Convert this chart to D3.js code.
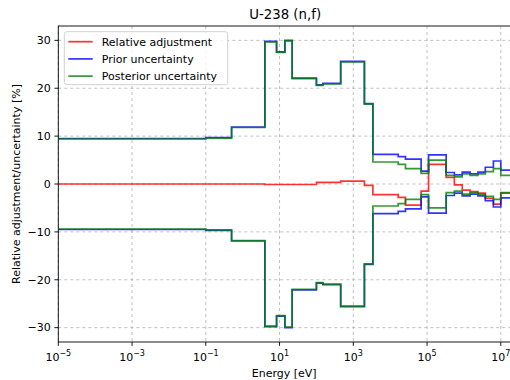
<!DOCTYPE html>
<html>
<head>
<meta charset="utf-8">
<script src="https://cdn.jsdelivr.net/npm/d3@7"></script>
<style>
  body { margin: 0; background: #fff; }
  svg { font-family: "DejaVu Sans", sans-serif; }
</style>
</head>
<body>
<div id="chart"></div>
<script>
// Energy group boundaries [eV]
const bounds = [1e-5, 0.1, 0.5, 4, 8.3, 14, 22, 100, 150, 455, 2000, 3400,
  1.65e4, 2.6e4, 6.9e4, 1.1e5, 3.3e5, 5.5e5, 9e5, 1.47e6, 2.4e6, 3.8e6, 6.3e6, 1.0e7, 2e7];

// Values per group [%]
const adjustment = [0, 0, 0, -0.1, -0.1, -0.1, -0.1, 0.35, 0.35, 0.6, -0.3, -2.2,
  -2.8, -4.4, -1.5, 4.1, 1.4, -0.2, -1.3, -1.6, -1.9, -3.0, -4.2, -1.9];
const priorUnc = [9.5, 9.7, 11.9, 29.8, 27.6, 30.0, 22.1, 20.7, 21.0, 25.6, 16.8, 6.2,
  5.7, 5.2, 2.7, 6.1, 2.4, 1.9, 2.5, 2.1, 2.5, 3.5, 4.8, 2.9];
const postUnc = [9.4, 9.6, 11.8, 29.7, 27.5, 29.9, 22.0, 20.6, 20.9, 25.5, 16.7, 4.6,
  4.1, 3.2, 2.2, 5.0, 1.8, 1.5, 2.1, 1.8, 2.1, 2.6, 3.2, 1.8];

const xTicks = [1e-5, 1e-3, 1e-1, 1e1, 1e3, 1e5, 1e7];
const yTicks = [-30, -20, -10, 0, 10, 20, 30];

const width = 510, height = 380;
const plot = { left: 58.3, right: 511.9, top: 26, bottom: 342 };

const svg = d3.select("#chart")
  .append("svg")
  .attr("width", width)
  .attr("height", height);

const x = d3.scaleLog().domain([1e-5, 2e7]).range([plot.left, plot.right]);
const y = d3.scaleLinear().domain([-33, 33]).range([plot.bottom, plot.top]);

svg.append("defs").append("clipPath").attr("id", "clip")
  .append("rect")
  .attr("x", plot.left).attr("y", plot.top)
  .attr("width", plot.right - plot.left).attr("height", plot.bottom - plot.top);

// grid
const grid = svg.append("g").attr("stroke", "#b0b0b0").attr("stroke-width", 0.8)
  .attr("stroke-dasharray", "3,3");
grid.selectAll(".gx").data(xTicks).join("line")
  .attr("x1", d => x(d)).attr("x2", d => x(d))
  .attr("y1", plot.top).attr("y2", plot.bottom);
grid.selectAll(".gy").data(yTicks).join("line")
  .attr("x1", plot.left).attr("x2", plot.right)
  .attr("y1", d => y(d)).attr("y2", d => y(d));

// step lines
const line = d3.line()
  .x(d => x(d[0]))
  .y(d => y(d[1]))
  .curve(d3.curveStepAfter);

const steps = (vals, sign) => bounds.map((b, i) => [b, sign * vals[Math.min(i, vals.length - 1)]]);

const series = [
  { data: steps(adjustment, 1), color: "#ff0000" },
  { data: steps(priorUnc, 1), color: "#0000ff" },
  { data: steps(priorUnc, -1), color: "#0000ff" },
  { data: steps(postUnc, 1), color: "#008000" },
  { data: steps(postUnc, -1), color: "#008000" }
];

svg.append("g").attr("clip-path", "url(#clip)")
  .selectAll("path")
  .data(series)
  .join("path")
  .attr("d", d => line(d.data))
  .attr("fill", "none")
  .attr("stroke", d => d.color)
  .attr("stroke-opacity", 0.8)
  .attr("stroke-width", 1.7);

// axes frame
svg.append("rect")
  .attr("x", plot.left).attr("y", plot.top)
  .attr("width", plot.right - plot.left).attr("height", plot.bottom - plot.top)
  .attr("fill", "none").attr("stroke", "#000").attr("stroke-width", 0.9);

// x ticks
const xt = svg.append("g").selectAll("g").data(xTicks).join("g")
  .attr("transform", d => `translate(${x(d)},${plot.bottom})`);
xt.append("line").attr("y2", 3.9).attr("stroke", "#000").attr("stroke-width", 0.9);
const xl = xt.append("text")
  .attr("y", 18.5)
  .attr("text-anchor", "middle")
  .attr("font-size", 11)
  .attr("fill", "#000");
xl.append("tspan").text("10");
xl.append("tspan")
  .attr("dy", -5)
  .attr("font-size", 8)
  .text(d => {
    const e = Math.round(Math.log10(d));
    return e < 0 ? "\u2212" + (-e) : String(e);
  });

// y ticks
const yt = svg.append("g").selectAll("g").data(yTicks).join("g")
  .attr("transform", d => `translate(${plot.left},${y(d)})`);
yt.append("line").attr("x2", -3.9).attr("stroke", "#000").attr("stroke-width", 0.9);
yt.append("text")
  .attr("x", -7.5)
  .attr("dy", "0.35em")
  .attr("text-anchor", "end")
  .attr("font-size", 11)
  .attr("fill", "#000")
  .text(d => d < 0 ? "\u2212" + (-d) : String(d));

// labels
svg.append("text")
  .attr("x", (plot.left + 510) / 2 + 1)
  .attr("y", 19)
  .attr("text-anchor", "middle")
  .attr("font-size", 13.3)
  .text("U-238 (n,f)");

svg.append("text")
  .attr("x", (plot.left + 510) / 2)
  .attr("y", 377)
  .attr("text-anchor", "middle")
  .attr("font-size", 11)
  .text("Energy [eV]");

svg.append("text")
  .attr("transform", `translate(20,${(plot.top + plot.bottom) / 2}) rotate(-90)`)
  .attr("text-anchor", "middle")
  .attr("font-size", 11)
  .text("Relative adjustment/uncertainty [%]");

// legend
const legendItems = [
  { label: "Relative adjustment", color: "#ff0000" },
  { label: "Prior uncertainty", color: "#0000ff" },
  { label: "Posterior uncertainty", color: "#008000" }
];
const legend = svg.append("g").attr("transform", "translate(64.3,31.7)");
legend.append("rect")
  .attr("width", 163.4).attr("height", 53)
  .attr("rx", 2.5)
  .attr("fill", "#fff").attr("fill-opacity", 0.8)
  .attr("stroke", "#cccccc").attr("stroke-width", 0.9);
const li = legend.selectAll(".item").data(legendItems).join("g")
  .attr("transform", (d, i) => `translate(0,${10 + i * 17.2})`);
li.append("line")
  .attr("x1", 4).attr("x2", 28.4)
  .attr("stroke", d => d.color).attr("stroke-opacity", 0.8).attr("stroke-width", 1.7);
li.append("text")
  .attr("x", 37.4)
  .attr("dy", "0.35em")
  .attr("font-size", 11)
  .text(d => d.label);
</script>
</body>
</html>
